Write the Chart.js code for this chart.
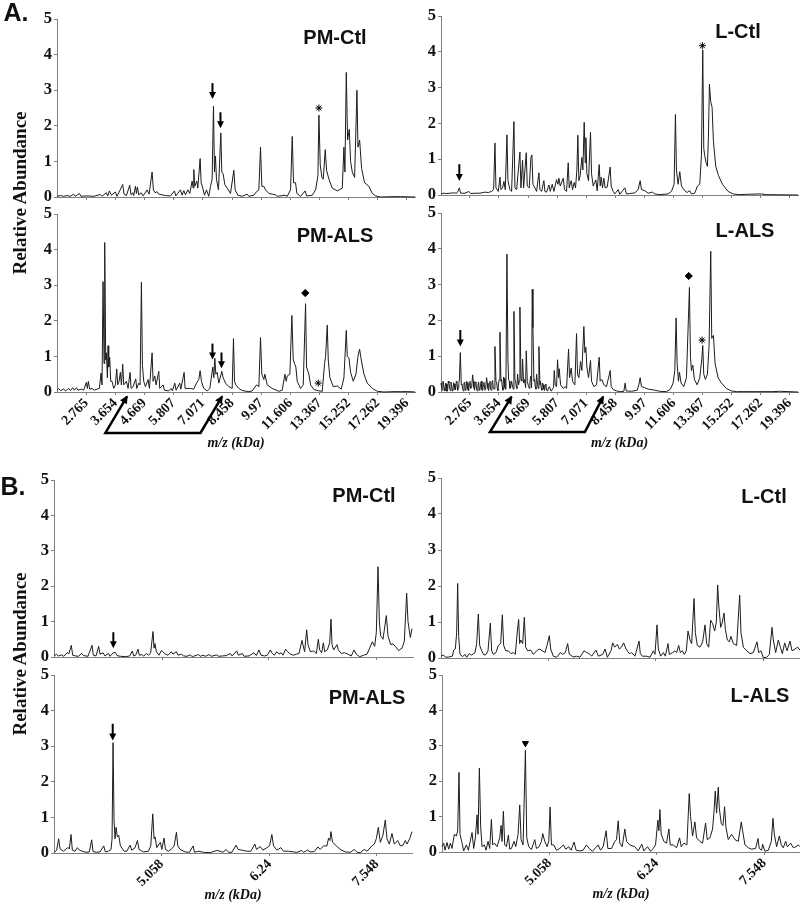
<!DOCTYPE html>
<html><head><meta charset="utf-8">
<style>
html,body{margin:0;padding:0;background:#fff;overflow:hidden;width:800px;height:902px}
canvas{position:absolute}
.t{position:absolute;transform:translate(-50%,-50%);white-space:nowrap;color:#111}
.h{font:bold 20px "Liberation Sans",Arial,sans-serif}
.p{font:bold 25px "Liberation Sans",Arial,sans-serif}
.y{font:bold 19px "Liberation Serif","Times New Roman",serif;transform:translate(-50%,-50%) rotate(-90deg)}
</style>
<script src="https://cdn.jsdelivr.net/npm/chart.js@4/dist/chart.umd.min.js"></script>
</head><body>
<script>
// Tick labels (m/z, kDa)
const fullLabels=['2.765','3.654','4.669','5.807','7.071','8.458','9.97','11.606','13.367','15.252','17.262','19.396'];
const zoomLabels=['5.058','6.24','7.548'];
// Detector channel of each labelled tick
const aLeftTicks=[258,345,432,519,607,695,782,870,957,1044,1131,1219];
const aRightTicks=[210,297,385,472,559,647,735,822,909,996,1083,1170];
const b1Ticks=[487,808,1130];
const b2Ticks=[485,808,1130];
const b3Ticks=[415,737,1060];
const b4Ticks=[420,740,1063];

// A. PM-Ctl
const a1X=[170,180,190,200,210,220,225,237,242,260,280,300,305,318,322,327,333,345,350,367,371,378,388,392,397,400,405,408,411,415,422,428,440,446,455,459,464,470,475,495,510,522,526,540,545,550,555,562,568,575,578,580,583,589,592,599,602,607,612,618,625,630,635,639,642,645,648,654,661,664,668,673,680,690,700,704,712,725,740,745,760,768,775,780,784,790,795,805,815,825,830,853,860,870,875,879,885,889,900,914,918,935,945,952,955,959,964,968,974,978,985,995,1010,1025,1030,1033,1037,1041,1046,1050,1055,1062,1069,1072,1077,1083,1092,1105,1115,1125,1140,1180,1200,1243];
const a1Y=[.02,.04,.02,.04,.02,.08,.02,.1,.02,.03,.02,.07,.02,.12,.03,.17,.05,.14,.02,.35,.08,.04,.33,.06,.12,.04,.3,.1,.28,.06,.12,.03,.2,.08,.7,.2,.12,.15,.08,.04,.03,.17,.03,.2,.05,.18,.06,.2,.1,.45,.25,.77,.3,.45,.25,1.08,.4,.25,.05,.2,.02,.3,.5,2.55,.7,1.15,.5,.2,1.8,.7,.65,.35,.25,.1,.75,.2,.05,.02,.08,.02,.05,.15,.2,1.4,.3,.3,.2,.1,.08,.06,.02,.05,.02,.2,1.7,.4,.4,.1,.02,.17,.03,.05,.2,.6,2.3,.9,.55,.5,1.33,.75,.5,.25,.17,.25,1.4,.7,3.5,1.6,1.9,1,.7,.55,3,1.4,1.6,.8,.4,.3,.1,.03,0,.01,.01,0];

// A. PM-ALS
const a2X=[170,175,180,190,196,205,210,217,222,228,233,243,250,258,261,264,268,275,282,290,297,302,305,308,311,313,316,318,321,323,325,328,331,335,340,345,349,352,356,360,363,367,370,378,383,389,392,398,406,409,415,419,423,426,430,435,443,447,455,458,463,467,475,478,488,492,505,512,516,523,527,538,541,551,554,562,570,580,588,595,599,603,610,620,628,637,640,643,646,650,655,664,668,675,685,695,699,702,706,715,725,745,755,768,775,780,784,790,793,800,815,835,845,853,857,860,868,874,878,882,886,890,900,908,915,918,925,930,940,955,965,972,975,980,983,988,998,1010,1022,1030,1037,1040,1045,1050,1058,1066,1072,1077,1082,1090,1100,1115,1130,1150,1180,1200,1225,1243];
const a2Y=[.05,.1,.04,.08,.03,.1,.04,.12,.05,.12,.05,.08,.05,.27,.1,.3,.08,.1,.05,.08,.1,.53,.2,3.1,.8,4.2,.9,1.1,.4,1.3,.7,.97,.3,.3,.1,.2,.65,.2,.3,.55,.2,.78,.2,.3,.1,.55,.1,.15,.37,.1,.25,.2,3.08,.75,.3,.15,.35,.1,1.1,.3,.45,.2,.58,.1,.2,.05,.03,.1,.03,.25,.05,.25,.08,.55,.1,.1,.1,.08,.25,.35,.6,.3,.1,.03,.1,.7,.4,.95,.5,.55,.25,.58,.4,.25,.15,.1,1.5,.3,.2,.1,.04,.01,.03,.2,.15,1.53,.5,.35,.5,.2,.1,.02,.05,.5,.3,.45,.5,2.15,.9,.8,.7,.3,.1,.2,2.48,.7,.5,.2,.07,.03,.02,.8,1,1.88,.9,.4,.15,.17,.08,.4,1.73,1,.95,.55,.3,.5,1,1.2,.9,.5,.25,.1,.02,0,.01,.01,.01,0];

// A. L-Ctl
const a3X=[123,130,140,150,160,170,175,178,182,195,207,212,225,240,255,265,275,281,285,288,295,300,303,308,312,316,321,324,330,335,342,345,350,360,363,368,371,379,382,388,393,396,399,405,410,417,420,425,432,435,440,447,451,457,462,470,474,477,481,490,494,500,505,508,514,518,523,527,531,534,537,541,546,549,553,556,558,561,566,572,575,580,588,592,598,601,604,608,612,616,622,631,634,640,645,655,660,675,680,690,705,715,721,725,735,745,758,765,780,805,815,823,827,830,835,840,845,855,862,870,875,885,893,900,905,909,912,915,919,923,926,929,933,937,941,948,956,968,985,1000,1020,1040,1085,1100,1195];
const a3Y=[.03,.05,.04,.05,.06,.05,.12,.2,.05,.05,.1,.04,.05,.05,.08,.07,.1,.15,1.45,.2,.1,.5,.15,.2,.38,.15,1.68,.4,.15,.1,2.05,.2,.15,1.2,.2,.97,.2,1.18,.25,.2,1.05,1.12,.3,.2,.1,.62,.15,.1,.4,.1,.08,.28,.1,.3,.1,.43,.3,.47,.25,.47,.15,.1,.9,.2,.4,.15,.35,.2,.7,1.67,.4,.55,1.05,.7,2.03,.9,1.6,.6,.4,1.75,.6,.25,.42,.12,.85,.25,.5,.2,.47,.2,.22,.78,.25,.1,.03,.15,.02,.2,.03,.04,.06,.15,.4,.15,.12,.05,.08,.03,.01,.03,.1,.3,2.25,.7,.3,.65,.25,.12,.07,.12,.03,.05,.25,.3,1.1,4.05,1.3,1.1,.9,.8,1.6,3.1,2.6,2.45,1.5,.8,.55,.3,.1,.03,.01,.02,.03,.01,0];

// A. L-ALS (main peaks, then the dense low-level signal read separately)
const a4X=[123,127,131,135,139,143,147,151,155,159,163,167,171,175,178,181,184,188,192,196,200,204,208,212,218,222,226,230,234,238,242,246,250,255,260,264,268,272,276,280,285,288,292,296,300,303,307,311,315,318,321,324,328,332,337,342,345,349,353,356,360,363,368,371,374,379,382,386,390,393,397,399,402,406,410,413,417,420,424,428,432,436,440,446,452,458,463,466,470,473,476,478,482,490,496,500,506,509,514,518,525,530,533,537,542,546,552,555,558,561,566,572,575,582,590,598,601,606,612,620,631,634,640,650,662,672,676,679,695,712,717,721,725,735,745,760,780,800,812,820,825,829,832,836,839,844,852,860,869,872,875,879,884,892,900,906,909,912,917,923,928,933,936,941,946,955,965,980,995,1010,1060,1120,1140,1195];
const a4Y=[.25,.05,.2,.03,.22,.06,.25,.04,.18,.05,.22,.08,.28,.1,.3,1.1,.2,.08,.25,.05,.3,.06,.22,.1,.48,.12,.28,.07,.2,.05,.22,.06,.18,.05,.4,.1,.22,.07,.28,.1,1.27,.3,.1,.25,1.67,.3,.15,.42,.12,.3,3.85,.9,.3,.12,.2,2.25,.35,.15,.5,.2,2.37,.4,.92,.25,.35,1.15,.3,.15,.3,.45,2.87,1.8,.3,.15,.5,.2,1.27,.2,.1,.25,.08,.2,.05,.12,.04,.1,.6,.2,.15,.9,.4,.65,.2,.1,.15,.1,1.2,.4,.67,.3,.2,1.63,.5,.4,.85,.6,1.83,1.1,1.25,.7,.4,.88,.3,.15,.2,.97,.3,.35,.2,.15,.6,.15,.07,.03,.01,.02,.25,.03,.02,.05,.2,.4,.15,.12,.08,.06,.02,.01,.08,.25,.6,2.07,.8,.3,.55,.25,.15,.4,2.92,1,.6,.75,.35,.2,.4,.9,1.3,.5,.35,.5,1.3,3.93,1.5,1.58,.8,.4,.25,.1,.03,.01,.01,.01,.02,0];
const a4LowX=[125,129,133,137,141,145,149,153,157,161,165,169,173,176.5,186,190,194,198,202,206,210,215,220,224,228,232,236,240,244,248,252,257,262,266,270,274,278,283,290,294,298,305,309,313,316,326,330,335,340,347,351,358,366,377,384,388,395,404,408,415,422,426,430,434,438,443,449,455,461];
const a4LowY=[.12,.3,.1,.25,.02,.3,.1,.28,.03,.26,.06,.3,.04,.24,.22,.03,.28,.08,.26,.03,.3,.12,.3,.05,.25,.03,.28,.08,.3,.04,.27,.08,.25,.04,.3,.05,.32,.08,.28,.04,.35,.35,.05,.38,.08,.35,.1,.3,.08,.3,.1,.3,.3,.12,.3,.1,.12,.35,.08,.1,.3,.05,.2,.04,.22,.03,.15,.03,.12];

// B. PM-Ctl
const b1X=[163,170,176,185,192,203,208,215,219,228,237,245,252,265,277,281,289,297,301,310,316,326,331,341,347,352,362,378,390,398,402,408,415,419,427,432,440,447,453,460,463,466,470,478,485,490,497,505,515,520,530,535,545,552,562,572,578,597,602,610,618,628,635,651,657,668,680,692,697,711,716,728,733,748,763,770,778,784,795,803,812,818,824,831,838,845,850,858,864,872,882,890,898,907,912,915,921,925,932,942,950,956,960,966,971,975,983,990,994,997,1002,1012,1016,1025,1035,1045,1055,1063,1070,1080,1092,1102,1110,1118,1125,1130,1135,1139,1143,1150,1160,1165,1173,1180,1187,1197,1207,1214,1221,1225,1232,1237];
const b1Y=[.03,.08,.03,.06,.02,.12,.1,.33,.05,.03,.02,.1,.04,.02,.33,.05,.03,.3,.08,.12,.03,.1,.02,.12,.13,.04,.02,.01,.03,.17,.03,.05,.22,.05,.07,.02,.1,.05,.12,.72,.25,.38,.15,.05,.18,.15,.08,.05,.15,.08,.15,.05,.08,.03,.02,.06,.01,.07,.02,.05,.02,.07,.02,.06,.02,.03,.04,.1,.03,.17,.05,.1,.02,.03,.12,.04,.2,.05,.03,.05,.2,.1,.05,.15,.08,.12,.05,.22,.15,.08,.05,.08,.1,.47,.25,.15,.77,.35,.15,.17,.1,.5,.2,.12,.4,.15,.2,.4,1.07,.35,.2,.35,.2,.1,.12,.08,.03,.2,.08,.01,.05,.08,.25,.43,.3,.7,2.55,1,.6,.5,1.17,.6,.35,.37,.3,.18,.25,.45,1.8,1,.55,.8];

// B. PM-ALS
const b2X=[162,170,176,180,190,203,208,213,217,225,232,238,247,258,268,275,279,290,300,311,316,325,333,336,339,342,345,348,352,356,361,372,380,390,395,405,412,417,430,445,452,458,462,465,470,481,485,492,496,505,515,522,529,533,540,555,568,579,583,595,610,630,650,660,668,678,685,695,708,714,725,740,752,764,769,780,788,800,808,815,820,830,842,850,865,880,890,904,910,922,930,942,953,960,970,980,985,989,992,997,1008,1020,1035,1050,1062,1070,1080,1092,1100,1115,1122,1128,1134,1140,1148,1155,1160,1167,1175,1182,1192,1200,1208,1215,1220,1228,1235];
const b2Y=[.01,.08,.4,.12,.05,.15,.12,.52,.08,.05,.15,.08,.05,.02,.03,.37,.04,.02,.03,.2,.03,.05,.1,.4,3.1,.9,.4,.72,.45,.5,.2,.05,.05,.22,.08,.15,.35,.1,.03,.05,.2,1.1,.4,.45,.15,.3,.1,.42,.1,.05,.12,.2,.58,.2,.1,.03,.02,.2,.02,.05,.02,.01,.07,.05,.02,.1,.02,.02,.22,.1,.08,.05,.05,.25,.1,.18,.08,.15,.2,.52,.2,.08,.15,.05,.05,.03,.02,.07,.02,.08,.03,.04,.17,.1,.2,.2,.42,.35,.6,.3,.2,.1,.03,.02,.1,.02,.01,.1,.05,.2,.25,.4,.72,.3,.5,.93,.4,.25,.55,.25,.35,.2,.22,.35,.25,.4,.6];

// B. L-Ctl
const b3X=[93,100,108,118,127,131,136,140,143,146,150,158,165,170,178,185,195,200,205,209,215,222,228,234,241,245,250,258,265,272,277,281,287,295,303,310,316,322,326,329,332,338,343,347,353,362,370,380,388,397,405,411,418,422,430,440,451,458,466,473,478,490,500,510,522,530,538,545,558,565,578,585,592,603,608,614,622,628,634,641,648,658,665,675,687,691,697,710,720,730,735,741,745,752,760,766,774,778,788,795,800,806,811,817,823,829,834,840,845,852,856,862,870,878,885,890,896,902,908,914,919,923,926,932,937,942,946,952,958,963,970,980,989,993,1000,1010,1020,1030,1041,1046,1053,1060,1070,1078,1086,1090,1097,1105,1111,1117,1124,1131,1140,1146,1155,1163,1170];
const b3Y=[.05,.08,.02,.03,.05,.22,.25,.7,2.07,.6,.1,.04,.1,.02,.12,.08,.15,.4,1.22,.35,.2,.08,.1,.2,.97,.2,.1,.15,.35,.4,1.2,.35,.2,.2,.12,.15,.1,.75,1.07,.4,.5,.4,1.13,.3,.2,.22,.1,.2,.25,.2,.15,.35,.62,.25,.05,.02,.15,.1,.15,.4,.1,.03,.05,.02,.2,.15,.12,.05,.22,.05,.1,.25,.02,.2,.42,.3,.38,.25,.3,.42,.25,.12,.15,.05,.47,.12,.05,.05,.02,.2,.1,.92,.25,.05,.15,.05,.4,.1,.15,.2,.15,.35,.15,.2,.1,.2,.75,.5,.4,1.65,.7,.35,.3,.45,.92,.4,.3,1.05,.95,.75,1,2.03,1.5,.85,1,1.25,.8,.5,.45,.6,.4,.35,1.75,.7,.3,.2,.12,.15,.45,.15,.2,.01,.02,.1,.85,.5,.15,.5,.3,.12,.42,.2,.47,.2,.25,.3,.22];

// B. L-ALS
const b4X=[97,102,106,112,117,122,127,134,140,144,148,151,156,162,170,176,187,192,197,202,205,209,213,217,224,229,235,240,245,249,254,262,270,274,277,281,285,290,296,300,305,313,318,325,330,334,340,347,351,357,365,375,380,388,395,399,405,412,417,421,425,432,440,450,461,468,477,484,493,499,510,520,530,538,548,565,572,580,589,594,605,615,620,625,630,637,645,650,660,675,685,696,702,713,722,730,737,744,747,750,754,762,770,777,781,790,800,809,814,822,831,838,842,848,855,860,870,878,887,892,900,908,912,916,920,925,928,934,939,944,948,955,965,975,985,994,998,1005,1015,1025,1037,1044,1048,1055,1058,1065,1075,1084,1089,1093,1100,1108,1114,1120,1127,1132,1142,1150,1158,1165,1170];
const b4Y=[.15,.25,.05,.27,.08,.25,.1,.5,.45,.6,2.25,.5,.3,.03,.2,.05,.55,.1,.4,1.05,.5,2.37,.7,.15,.2,.05,.3,.1,.92,.2,.25,.15,.4,.75,.3,1.15,.2,.15,.48,.08,.1,.3,.15,.5,1.33,.35,.2,2.88,.4,.15,.07,.35,.1,.15,.3,.52,.3,.15,.3,1.27,.2,.2,.05,.1,.2,.08,.15,.05,.28,.05,.03,.05,.2,.1,.02,.2,.05,.15,.6,.1,.1,.3,.35,.88,.25,.15,.65,.3,.2,.15,.03,.22,.03,.15,.02,.1,.2,.9,.6,1.2,.5,.3,.25,.65,.2,.2,.12,.4,.15,.25,.2,1.65,1,.45,.85,.4,.3,.25,.82,.35,.4,.65,1.1,1.72,1.1,1.83,1.25,.8,.75,1.28,.7,.35,.5,.35,.3,.85,.6,.2,.12,.08,.1,.38,.1,.05,.22,.02,.05,.3,.95,.5,.15,.45,.2,.12,.3,.15,.25,.12,.15,.2,.15];

// Annotation marks: down arrows [channel, top value, tip value]
const a1Arrows=[[636,3.2,2.75],[660,2.38,1.93]];
const a2Arrows=[[636,1.36,.91],[663,1.11,.67]];
const a3Arrows=[[178,.86,.39]];
const a4Arrows=[[181,1.73,1.27]];
const b1Arrows=[[341,.7,.25]];
const b2Arrows=[[338,3.63,3.16]];
// Bracket arrows under the axis
const a2Bracket=[[380,-.12],[315,-1.15],[600,-1.15],[665,-.12]];
const a4Bracket=[[335,-.13],[270,-1.12],[555,-1.12],[610,-.13]];
// Point marks
const a1Star=[{x:955,y:2.5}], a2Star=[{x:953,y:.25}], a3Star=[{x:908,y:4.17}], a4Star=[{x:907,y:1.45}];
const a2Diamond=[{x:914,y:2.78}], a4Diamond=[{x:867,y:3.24}];
const b4Triangle=[{x:347,y:3.07}];

const SERIF='"Liberation Serif","Times New Roman",serif';
const AXIS='#7f7f7f', INK='#1c1c1c';

const arrowPlugin={
  id:'panelMarks',
  afterDatasetsDraw(chart,args,opts){
    const c=chart.ctx,xs=chart.scales.x,ys=chart.scales.y;
    c.save();c.strokeStyle='#000';c.fillStyle='#000';
    (opts.arrows||[]).forEach(a=>{
      const x=xs.getPixelForValue(a[0]),t=ys.getPixelForValue(a[1]),b=ys.getPixelForValue(a[2]);
      c.lineWidth=2;c.beginPath();c.moveTo(x,t);c.lineTo(x,b-5);c.stroke();
      c.beginPath();c.moveTo(x-3.5,b-7);c.lineTo(x+3.5,b-7);c.lineTo(x,b);c.closePath();c.fill();
    });
    if(opts.bracket){
      const p=opts.bracket.map(q=>[xs.getPixelForValue(q[0]),ys.getPixelForValue(q[1])]);
      c.lineWidth=2.5;c.beginPath();c.moveTo(p[0][0],p[0][1]);c.lineTo(p[1][0],p[1][1]);c.lineTo(p[2][0],p[2][1]);c.lineTo(p[3][0],p[3][1]);c.stroke();
      [[p[1],p[0]],[p[2],p[3]]].forEach(([s,e])=>{
        const an=Math.atan2(e[1]-s[1],e[0]-s[0]);
        c.save();c.translate(e[0],e[1]);c.rotate(an);
        c.beginPath();c.moveTo(1,0);c.lineTo(-7,-4);c.lineTo(-7,4);c.closePath();c.fill();c.restore();
      });
    }
    c.restore();
  }
};

function panel(cfg){
  const leftW=40,topP=12,rightP=8;
  const aL=cfg.off+cfg.min/3,aR=cfg.off+cfg.max/3;
  const W=Math.round(aR-aL)+leftW+rightP,H=Math.round(cfg.bottom-cfg.top)+topP+cfg.below;
  const cv=document.createElement('canvas');
  cv.width=W;cv.height=H;
  cv.style.left=(aL-leftW)+'px';cv.style.top=(cfg.top-topP)+'px';cv.style.width=W+'px';cv.style.height=H+'px';
  document.body.appendChild(cv);
  const trace=cfg.xs.map((v,i)=>({x:v,y:cfg.ys[i]}));
  if(cfg.lowX)cfg.lowX.forEach((v,i)=>trace.push({x:v,y:cfg.lowY[i]}));
  trace.sort((a,b)=>a.x-b.x);
  const sets=[{data:trace,showLine:true,borderColor:INK,borderWidth:1,pointRadius:0,tension:0,clip:false,order:2}];
  if(cfg.star)sets.push({data:cfg.star,showLine:false,pointStyle:'star',pointRadius:3.5,borderColor:'#000',borderWidth:1,backgroundColor:'#000',clip:false});
  if(cfg.diamond)sets.push({data:cfg.diamond,showLine:false,pointStyle:'rectRot',pointRadius:3.6,borderColor:'#000',backgroundColor:'#000',clip:false});
  if(cfg.triangle)sets.push({data:cfg.triangle,showLine:false,pointStyle:'triangle',rotation:180,pointRadius:3.5,borderColor:'#000',backgroundColor:'#000',clip:false});
  const unpad=s=>{s.paddingLeft=s.paddingRight=s.paddingTop=s.paddingBottom=0;};
  new Chart(cv,{
    type:'scatter',
    data:{datasets:sets},
    plugins:[arrowPlugin],
    options:{
      responsive:false,animation:false,
      layout:{padding:{top:topP,right:rightP,left:0,bottom:0}},
      plugins:{legend:{display:false},tooltip:{enabled:false},panelMarks:{arrows:cfg.arrows,bracket:cfg.bracket}},
      scales:{
        x:{type:'linear',min:cfg.min,max:cfg.max,
          grid:{drawOnChartArea:false,color:AXIS,tickLength:3},border:{color:AXIS},
          afterBuildTicks(s){s.ticks=cfg.ticks.map(v=>({value:v}));},
          afterFit(s){s.height=cfg.below;unpad(s);},
          title:{display:!!cfg.labels,text:'m/z (kDa)',color:'#111',padding:0,font:{family:SERIF,size:14,weight:'bold',style:'italic'}},
          ticks:{autoSkip:false,minRotation:cfg.labels?45:0,maxRotation:cfg.labels?45:0,padding:0,color:'#111',
            font:{family:SERIF,size:14,weight:'bold'},
            callback(v,i){return cfg.labels?cfg.labels[i]:'';}}
        },
        y:{min:0,max:5,
          grid:{drawOnChartArea:false,color:AXIS,tickLength:3},border:{color:AXIS},
          afterFit(s){s.width=leftW;unpad(s);},
          ticks:{stepSize:1,padding:2,color:'#111',font:{family:SERIF,size:16.5,weight:'bold'}}
        }
      }
    }
  });
}
function text(cls,str,x,y){
  const d=document.createElement('div');d.className='t '+cls;d.textContent=str;d.style.left=x+'px';d.style.top=y+'px';document.body.appendChild(d);
}

panel({off:0,min:170,max:1243,top:19,bottom:197.3,below:6,xs:a1X,ys:a1Y,ticks:aLeftTicks,arrows:a1Arrows,star:a1Star});
panel({off:0,min:170,max:1243,top:214,bottom:392.3,below:60,xs:a2X,ys:a2Y,ticks:aLeftTicks,labels:fullLabels,arrows:a2Arrows,bracket:a2Bracket,star:a2Star,diamond:a2Diamond});
panel({off:400,min:123,max:1195,top:16,bottom:195,below:6,xs:a3X,ys:a3Y,ticks:aRightTicks,arrows:a3Arrows,star:a3Star});
panel({off:400,min:123,max:1195,top:213,bottom:392,below:60,xs:a4X,ys:a4Y,lowX:a4LowX,lowY:a4LowY,ticks:aRightTicks,labels:fullLabels,arrows:a4Arrows,bracket:a4Bracket,star:a4Star,diamond:a4Diamond});
panel({off:0,min:163,max:1240,top:480,bottom:657,below:6,xs:b1X,ys:b1Y,ticks:b1Ticks,arrows:b1Arrows});
panel({off:0,min:162,max:1235,top:675,bottom:853,below:51,xs:b2X,ys:b2Y,ticks:b2Ticks,labels:zoomLabels,arrows:b2Arrows});
panel({off:410,min:93,max:1170,top:478,bottom:658,below:6,xs:b3X,ys:b3Y,ticks:b3Ticks});
panel({off:410,min:97,max:1170,top:675,bottom:852,below:51,xs:b4X,ys:b4Y,ticks:b4Ticks,labels:zoomLabels,triangle:b4Triangle});

text('p','A.',16,12);
text('p','B.',13,486);
text('y','Relative Abundance',20,193);
text('y','Relative Abundance',20,654);
text('h','PM-Ctl',335,37);
text('h','PM-ALS',335,235);
text('h','L-Ctl',738,31);
text('h','L-ALS',745,230);
text('h','PM-Ctl',364,495);
text('h','PM-ALS',367,697);
text('h','L-Ctl',764,496);
text('h','L-ALS',760,695);
</script>
</body></html>
